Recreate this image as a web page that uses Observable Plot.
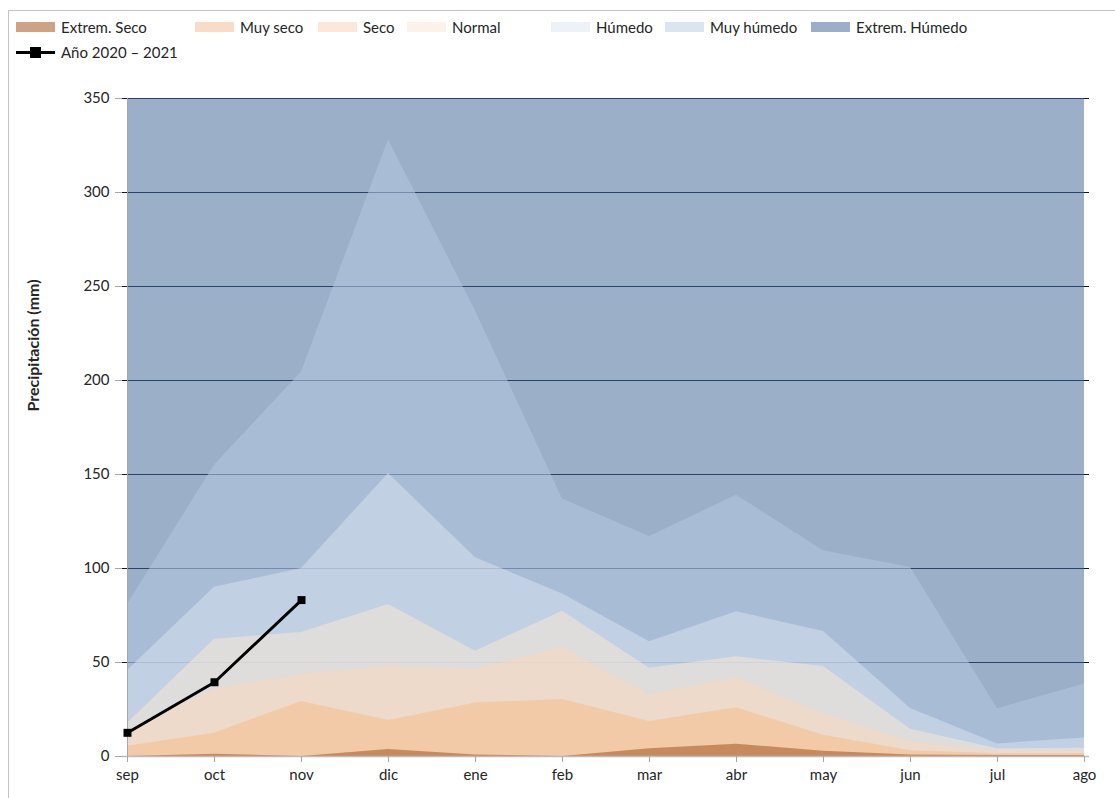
<!DOCTYPE html>
<html>
<head>
<meta charset="utf-8">
<script src="https://cdn.jsdelivr.net/npm/d3@7"></script>
<script src="https://cdn.jsdelivr.net/npm/@observablehq/plot@0.6"></script>
<style>
  html, body { margin: 0; padding: 0; background: #fff; width: 1115px; height: 798px; overflow: hidden; }
  body { position: relative; font-family: Lato, "Open Sans", sans-serif; color: #262626; }
  #frame { position: absolute; left: 8px; top: 10px; width: 1200px; height: 900px; border: 1px solid #c4c4c4; box-sizing: border-box; pointer-events: none; }
  #legend { position: relative; height: 70px; }
  .item { position: absolute; display: flex; align-items: center; font-size: 15px; height: 20px; white-space: nowrap; }
  .sw { width: 39px; height: 10px; margin-right: 6px; }
  .ln { width: 39px; height: 12px; margin-right: 6px; position: relative; }
  .ln::before { content: ""; position: absolute; left: 0; right: 0; top: 5px; height: 3px; background: #000; }
  .ln::after { content: ""; position: absolute; left: 14px; top: 1px; width: 11px; height: 11px; background: #000; }
  #chart { position: relative; }
</style>
</head>
<body>
<div id="frame"></div>
<div id="legend"></div>
<div id="chart"></div>
<script>
// ---- data ----
const months = ["sep","oct","nov","dic","ene","feb","mar","abr","may","jun","jul","ago"];
const extremHumedo = [350, 350, 350, 350, 350, 350, 350, 350, 350, 350, 350, 350];
const muyHumedo    = [81, 155, 204.5, 328, 237, 137, 117, 139, 109.5, 100.5, 25.4, 38.5];
const humedo       = [45.7, 90, 100, 150.5, 105.7, 86.5, 61, 77, 66.5, 25.5, 6.7, 9.9];
const normal       = [17.7, 62.4, 66, 80.9, 56, 77.3, 47, 53, 47.9, 14.5, 4.1, 4.4];
const seco         = [14, 36, 43.8, 48, 46.5, 58, 33, 42, 22.7, 8, 2.8, 2.8];
const muySeco      = [5.5, 12.4, 29.3, 19.1, 28.5, 30.3, 18.6, 25.9, 11.3, 3, 1.4, 1.4];
const extremSeco   = [0, 1.2, 0, 3.7, 0.8, 0, 4.1, 6.5, 2.8, 0.8, 0.5, 0.5];
const anioMonths   = ["sep","oct","nov"];
const anioValues   = [12.6, 39.5, 83.2];
const yTicks       = [0, 50, 100, 150, 200, 250, 300, 350];

const legendNames  = ["Extrem. Seco","Muy seco","Seco","Normal","Húmedo","Muy húmedo","Extrem. Húmedo"];
const legendColors = ["#cfa283","#f9dcc5","#fce7d8","#fdf2e9","#edf1f8","#dbe4f1","#9bafc8"];
const legendX      = [16, 195, 318, 407, 551, 665, 811];
const lineName     = "Año 2020 – 2021";

// ---- legend ----
const leg = document.getElementById("legend");
legendNames.forEach((n, i) => {
  const d = document.createElement("div");
  d.className = "item";
  d.style.left = legendX[i] + "px";
  d.style.top = "17px";
  d.innerHTML = `<span class="sw" style="background:${legendColors[i]}"></span><span>${n}</span>`;
  leg.appendChild(d);
});
{
  const d = document.createElement("div");
  d.className = "item";
  d.style.left = "16px";
  d.style.top = "42px";
  d.innerHTML = `<span class="ln"></span><span>${lineName}</span>`;
  leg.appendChild(d);
}

// ---- layers (drawn from 0 up to each threshold, overlapping, semi-transparent) ----
const layers = [
  {values: extremHumedo, fill: "rgb(66,104,151)",  op: 0.53},
  {values: muyHumedo,    fill: "rgb(180,199,225)", op: 0.55},
  {values: humedo,       fill: "rgb(211,221,236)", op: 0.60},
  {values: normal,       fill: "rgb(247,230,214)", op: 0.55},
  {values: seco,         fill: "rgb(251,216,186)", op: 0.50},
  {values: muySeco,      fill: "rgb(247,191,145)", op: 0.60},
  {values: extremSeco,   fill: "rgb(190,127,79)",  op: 0.85}
];

const font = "Lato, 'Open Sans', sans-serif";
const chart = Plot.plot({
  width: 1115,
  height: 728,
  marginTop: 28,
  marginBottom: 42,
  marginLeft: 122,
  marginRight: 26,
  style: {fontFamily: font, fontSize: "15px", color: "#262626", background: "transparent"},
  x: {type: "point", domain: months, padding: 0},
  y: {domain: [0, 350]},
  marks: [
    Plot.ruleY(yTicks.filter(d => d > 0), {stroke: "#0b1a33", strokeWidth: 1.2}),
    ...layers.map(l => Plot.areaY(months.map((m, i) => ({m, v: l.values[i]})),
      {x: "m", y1: 0, y2: "v", fill: l.fill, fillOpacity: l.op, curve: "linear"})),
    Plot.ruleX([months[0]], {y1: 0, y2: 350, stroke: "#a6a6a6"}),
    Plot.ruleY([0], {stroke: "#bcbcbc", strokeWidth: 1.5}),
    Plot.axisY({ticks: yTicks, tickSize: 7, tickPadding: 6, stroke: "#a6a6a6", fill: "#262626", label: null, fontSize: 15}),
    Plot.axisX({tickSize: 6, tickPadding: 7, stroke: "#a6a6a6", fill: "#262626", label: null, fontSize: 15}),
    Plot.text(["Precipitación (mm)"], {frameAnchor: "left", textAnchor: "middle", dx: -89, dy: -82, rotate: -90, text: d => d, fontWeight: "bold", fontSize: 16, fill: "#262626"}),
    Plot.line(anioMonths.map((m, i) => ({m, v: anioValues[i]})), {x: "m", y: "v", stroke: "#000", strokeWidth: 3}),
    Plot.dot(anioMonths.map((m, i) => ({m, v: anioValues[i]})), {x: "m", y: "v", symbol: "square", r: 4.5, fill: "#000"})
  ]
});
document.getElementById("chart").appendChild(chart);
</script>
</body>
</html>
